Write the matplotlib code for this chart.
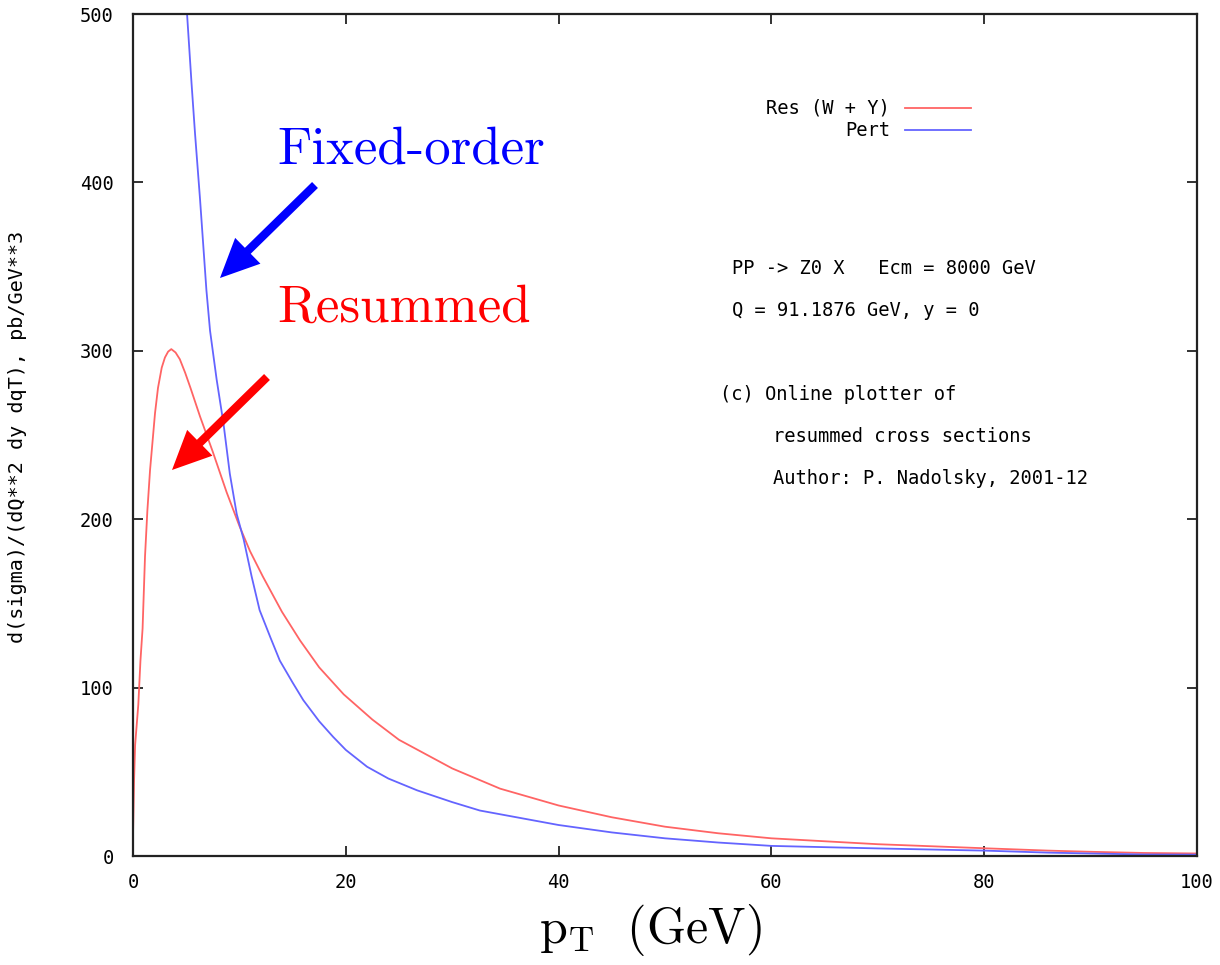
import matplotlib
matplotlib.use("Agg")
import matplotlib.pyplot as plt

# ---- data ----
res_pt = [0.0, 0.1, 0.2, 0.5, 0.7, 0.9, 1.13, 1.35, 1.6, 2.07, 2.35, 2.7, 3.0, 3.3,
          3.6, 4.0, 4.4, 4.9, 5.4, 6.3, 7.5, 8.8, 10.0, 11.0, 12.2, 14.0, 15.7,
          17.5, 19.8, 22.5, 25, 30, 34.5, 40, 45, 50, 55, 60, 70, 80, 86, 90,
          95, 100]
res_y = [12, 45, 66, 90, 116, 135, 178, 205, 229, 263, 278, 290, 296, 299.5,
         301, 299, 295, 287, 278, 261, 240, 216, 196, 181, 166, 145, 128,
         112, 96, 81, 69, 52, 40, 30, 23, 17.4, 13.5, 10.5, 7, 4.6, 3.2, 2.5,
         1.8, 1.5]

pert_pt = [4.9, 5.08, 5.5, 5.83, 6.3, 6.9, 7.24, 7.86, 8.5, 9.1, 9.75, 10.4, 11.15,
           11.9, 12.9, 13.8, 15.0, 16, 17.5, 18.8, 20.0, 22, 24, 26.7, 30, 32.6,
           40, 45, 50, 55, 60, 70, 80, 86, 90, 95, 100]
pert_y = [520, 500, 459, 429, 390, 336, 312, 283, 257, 227, 203, 188, 166,
          146, 130, 116, 103, 92.6, 80, 70.8, 63, 53, 46, 39, 32, 27,
          18.4, 14, 10.5, 8, 6, 4.5, 3.2, 2.0, 1.5, 0.9, 0.8]

x_ticks = [0, 20, 40, 60, 80, 100]
y_ticks = [0, 100, 200, 300, 400, 500]

legend_labels = ["Res (W + Y)", "Pert"]
info_lines = ["PP -> Z0 X   Ecm = 8000 GeV", "Q = 91.1876 GeV, y = 0"]
credit_lines = ["(c) Online plotter of", "resummed cross sections",
                "Author: P. Nadolsky, 2001-12"]

RED = "#ff6464"
BLUE = "#6464ff"
MONO = "DejaVu Sans Mono"
FS = 13.5

plt.rcParams["mathtext.fontset"] = "cm"

W, H = 1220, 965
fig = plt.figure(figsize=(W / 100, H / 100), dpi=100)
ax = fig.add_axes([133 / W, (H - 856) / H, (1197 - 133) / W, (856 - 14) / H])

ax.plot(res_pt, res_y, color=RED, lw=1.3)
ax.plot(pert_pt, pert_y, color=BLUE, lw=1.3)

ax.set_xlim(0, 100)
ax.set_ylim(0, 500)
ax.set_xticks(x_ticks)
ax.set_yticks(y_ticks)
ax.set_xticklabels([str(v) for v in x_ticks], fontfamily=MONO, fontsize=FS)
ax.set_yticklabels([str(v) for v in y_ticks], fontfamily=MONO, fontsize=FS)
ax.tick_params(direction="in", length=7, width=1.3, top=True, right=True,
               color="#222222")
ax.tick_params(axis="x", pad=12)
ax.tick_params(axis="y", pad=14)
for s in ax.spines.values():
    s.set_linewidth(1.6)
    s.set_color("#222222")

ax.set_ylabel("d(sigma)/(dQ**2 dy dqT), pb/GeV**3", fontfamily=MONO,
              fontsize=14.5)
ax.yaxis.set_label_coords(-(133 - 27) / (1197 - 133), (856 - 437) / (856 - 14))

fig.text(650 / W, 1 - 930 / H, r"$\mathrm{p}_{\mathrm{T}}\ \ \mathrm{(GeV)}$",
         fontsize=36, ha="center", va="center")

# gnuplot-style legend
def px2data(px, py):
    return (px - 133) / 10.64, (856 - py) / 1.684

for i, (lab, col) in enumerate(zip(legend_labels, [RED, BLUE])):
    py = 108 + 22 * i
    x0, y0 = px2data(890, py)
    ax.text(x0, y0, lab, fontfamily=MONO, fontsize=FS, ha="right", va="center")
    xa, _ = px2data(905, py)
    xb, _ = px2data(971, py)
    ax.plot([xa, xb], [y0, y0], color=col, lw=1.3)

for i, line in enumerate(info_lines):
    x0, y0 = px2data(732, 268 + 42 * i)
    ax.text(x0, y0, line, fontfamily=MONO, fontsize=FS, ha="left", va="center")

for i, line in enumerate(credit_lines):
    x0, y0 = px2data(720 if i == 0 else 773, 395 + 41.5 * i)
    ax.text(x0, y0, line, fontfamily=MONO, fontsize=FS, ha="left", va="center")

# annotations
tx, ty = px2data(277, 150)
ax.text(tx, ty, "Fixed-order", color="blue", fontfamily="cmr10", fontsize=38,
        ha="left", va="center")
tx, ty = px2data(277, 308)
ax.text(tx, ty, "Resummed", color="red", fontfamily="cmr10", fontsize=38,
        ha="left", va="center")

arrow_kw = dict(width=6, headwidth=26, headlength=28, shrink=0, edgecolor="none")
ax.annotate("", xy=px2data(220, 278), xytext=px2data(315, 185),
            arrowprops=dict(facecolor="blue", **arrow_kw))
ax.annotate("", xy=px2data(172, 470), xytext=px2data(267, 377),
            arrowprops=dict(facecolor="red", **arrow_kw))

fig.savefig("out.png", dpi=100)
